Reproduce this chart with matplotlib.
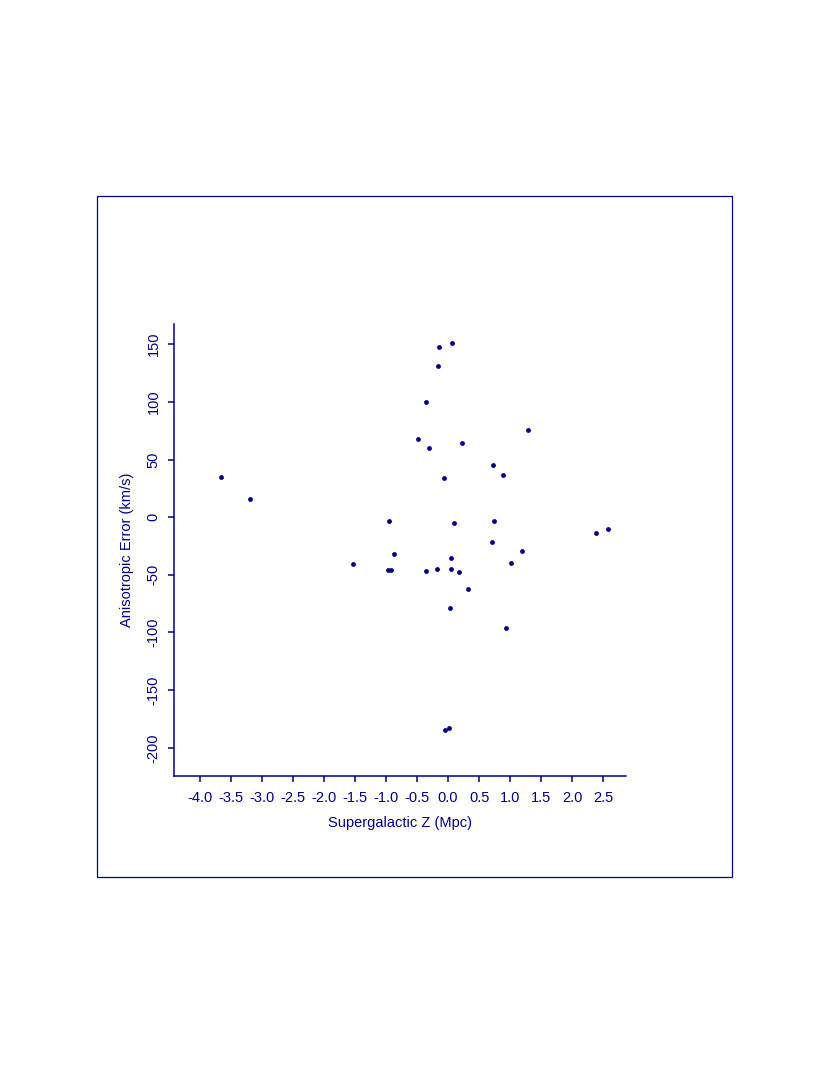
import matplotlib
matplotlib.use("Agg")
import matplotlib.pyplot as plt
from matplotlib.patches import Rectangle

plt.rcParams['font.family'] = ['Liberation Sans', 'DejaVu Sans']
plt.rcParams['axes.unicode_minus'] = False

# supergalactic Z (Mpc) vs anisotropic error (km/s)
sgz = [-3.655, -3.194, -0.145, 0.059, -0.161, -0.354, -0.478, -0.301, 0.231,
       1.294, 0.719, 0.880, -0.070, -0.950, 0.091, 0.735, 0.709, 2.383, 2.571,
       1.197, -0.870, 0.043, -1.524, 1.020, -0.961, -0.923, -0.354, -0.177,
       0.043, 0.172, 0.317, 0.027, 0.929, -0.054, 0.011]
aniso_err = [34.9, 16.1, 147.4, 150.8, 131.2, 99.7, 68.1, 59.7, 64.7,
             75.6, 45.3, 36.6, 34.0, -3.6, -5.3, -3.6, -21.5, -13.7, -10.2,
             -29.0, -31.6, -35.1, -40.9, -40.0, -46.1, -46.1, -47.0, -45.2,
             -45.2, -47.8, -62.3, -78.5, -96.4, -184.9, -183.2]

xticks = [-4.0, -3.5, -3.0, -2.5, -2.0, -1.5, -1.0, -0.5, 0.0, 0.5, 1.0, 1.5, 2.0, 2.5]
yticks = [150, 100, 50, 0, -50, -100, -150, -200]

col = '#000088'
fs = 10.5

fig = plt.figure(figsize=(8.3, 10.75), dpi=100)
W, H = 830, 1075

# outer frame
fig.patches.append(Rectangle((97.3 / W, 1 - 877.3 / H), (732.3 - 97.3) / W, (877.3 - 196) / H,
                             transform=fig.transFigure, fill=False, edgecolor=col, lw=0.9))

ax = fig.add_axes([173.7 / W, 1 - 776 / H, (626 - 173.7) / W, (776 - 324.3) / H])
ax.scatter(sgz, aniso_err, s=12, color=col, linewidths=0)

ax.set_xlim(-4.417, 2.866)
ax.set_ylim(-224.5, 167.3)
ax.set_xticks(xticks)
ax.set_xticklabels(['%.1f' % v for v in xticks])
ax.set_yticks(yticks)
ax.set_yticklabels([str(v) for v in yticks], rotation=90, va='center')

for s in ['top', 'right']:
    ax.spines[s].set_visible(False)
for s in ['left', 'bottom']:
    ax.spines[s].set_color(col)
    ax.spines[s].set_linewidth(1.1)
ax.tick_params(colors=col, labelcolor=col, labelsize=fs, length=4.5, width=1.1)
ax.tick_params(axis='x', pad=6)
ax.tick_params(axis='y', pad=5)

ax.set_xlabel('Supergalactic Z (Mpc)', color=col, fontsize=fs, labelpad=8)
ax.set_ylabel('Anisotropic Error (km/s)', color=col, fontsize=fs, labelpad=9)

fig.savefig('out.png', dpi=100)
